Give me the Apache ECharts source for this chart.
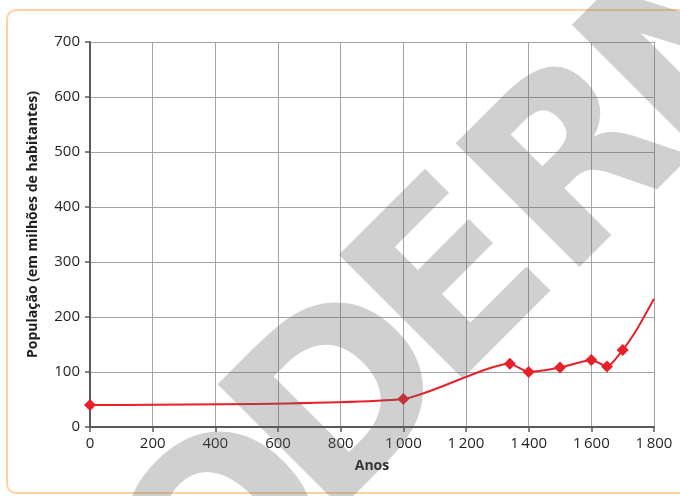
<!DOCTYPE html>
<html>
<head>
<meta charset="utf-8">
<script src="https://cdn.jsdelivr.net/npm/echarts@6/dist/echarts.min.js"></script>
<style>
  html, body { margin: 0; padding: 0; background: #ffffff; }
  #chart { width: 680px; height: 496px; }
</style>
</head>
<body>
<div id="chart"></div>
<script>
// Population estimates (millions) by year
const years = [0, 1000, 1340, 1400, 1500, 1600, 1650, 1700, 1750, 1800];
const population = [40, 51, 115, 100, 108, 122, 110, 140, 182, 233];
// Years that carry a diamond marker
const markedYears = [0, 1000, 1340, 1400, 1500, 1600, 1650, 1700];

const xTickLabels = ['0', '200', '400', '600', '800', '1\u2009000', '1\u2009200', '1\u2009400', '1\u2009600', '1\u2009800'];
const yTickLabels = ['0', '100', '200', '300', '400', '500', '600', '700'];

const xTitle = 'Anos';
const yTitle = 'População (em milhões de habitantes)';
const watermark = 'MODERNA';

const RED = '#e8202a';
const FONT = '"Open Sans", "Noto Sans", sans-serif';

const lineData = years.map((y, i) => {
  const item = { value: [y, population[i]] };
  if (markedYears.indexOf(y) < 0) item.symbol = 'none';
  return item;
});

// Watermark letters laid along a 45° baseline, translucent grey over the plot
const letterCenters = [[85, 671], [238, 543], [352, 409], [461, 292], [585, 173], [707, 49], [845, -89]];
const wmLetters = watermark.split('').map((ch, i) => ({
  type: 'text',
  x: letterCenters[i][0],
  y: letterCenters[i][1],
  rotation: Math.PI / 4,
  z: 100,
  silent: true,
  style: {
    text: ch,
    font: 'bold 240px "DejaVu Sans", sans-serif',
    fill: 'rgba(100,100,100,0.3)',
    textAlign: 'center',
    textVerticalAlign: 'middle'
  }
}));

const chart = echarts.init(document.getElementById('chart'), null, { renderer: 'canvas' });
chart.setOption({
  animation: false,
  backgroundColor: '#ffffff',
  grid: { left: 90, right: 26, top: 42, bottom: 69, containLabel: false },
  xAxis: {
    type: 'value',
    min: 0, max: 1800, interval: 200,
    name: xTitle,
    nameLocation: 'middle',
    nameGap: 32,
    nameTextStyle: { fontFamily: FONT, fontWeight: 'bold', fontSize: 14, color: '#231f20' },
    axisLine: { show: true, onZero: false, lineStyle: { color: '#5a5a5a', width: 2 } },
    axisTick: { show: true, inside: false, length: 5, lineStyle: { color: '#5a5a5a', width: 1.5 } },
    axisLabel: {
      margin: 9,
      fontFamily: FONT, fontSize: 15, color: '#231f20',
      formatter: v => xTickLabels[Math.round(v / 200)]
    },
    splitLine: { show: true, lineStyle: { color: '#a3a3a3', width: 1 } }
  },
  yAxis: {
    type: 'value',
    min: 0, max: 700, interval: 100,
    name: yTitle,
    nameLocation: 'middle',
    nameRotate: 90,
    nameGap: 50,
    nameTextStyle: { fontFamily: FONT, fontWeight: 'bold', fontSize: 14, color: '#231f20', padding: [0, 0, 0, 20] },
    axisLine: { show: true, lineStyle: { color: '#5a5a5a', width: 2 } },
    axisTick: { show: true, inside: false, length: 5, lineStyle: { color: '#5a5a5a', width: 1.5 } },
    axisLabel: {
      margin: 10,
      fontFamily: FONT, fontSize: 15, color: '#231f20',
      formatter: v => yTickLabels[Math.round(v / 100)]
    },
    splitLine: { show: true, lineStyle: { color: '#a3a3a3', width: 1 } }
  },
  series: [{
    type: 'line',
    data: lineData,
    smooth: 0.2,
    symbol: 'diamond',
    symbolSize: 12,
    showAllSymbol: true,
    lineStyle: { color: RED, width: 2 },
    itemStyle: { color: RED },
    z: 5
  }],
  graphic: [
    {
      type: 'rect',
      z: 50,
      silent: true,
      shape: { x: 7, y: 10, width: 720, height: 483, r: 9 },
      style: { fill: 'none', stroke: '#fcd3a0', lineWidth: 2 }
    }
  ].concat(wmLetters)
});
</script>
</body>
</html>
